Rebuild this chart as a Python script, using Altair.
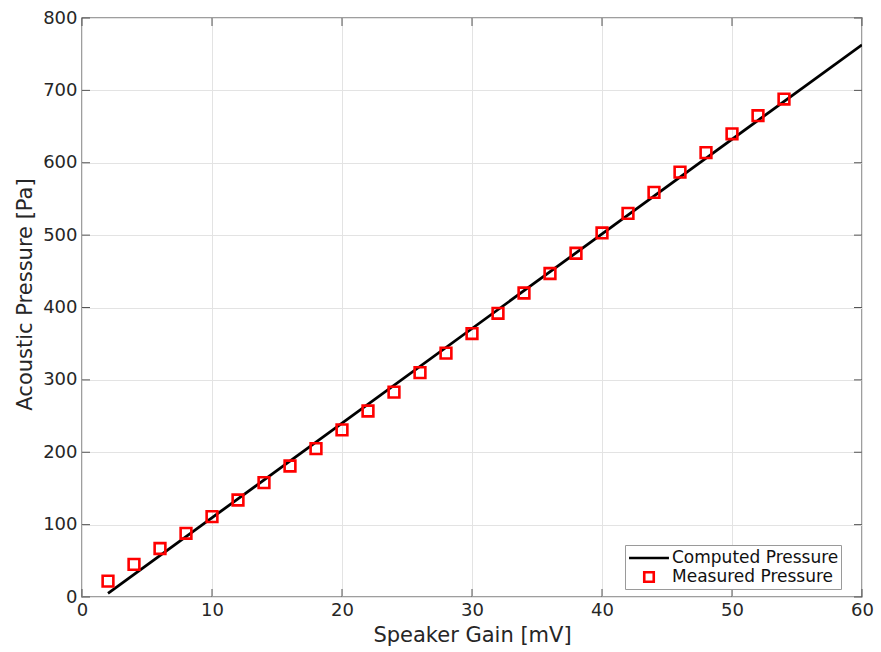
import altair as alt
import pandas as pd

# ---- data ----
gain_measured = [2, 4, 6, 8, 10, 12, 14, 16, 18, 20, 22, 24, 26, 28,
                 30, 32, 34, 36, 38, 40, 42, 44, 46, 48, 50, 52, 54]
pressure_measured = [22, 45, 67, 88, 111, 134, 158, 181, 205, 231, 257, 283, 310, 337,
                     364, 392, 420, 447, 475, 503, 530, 559, 587, 614, 640, 665, 688]
gain_computed = [2, 60]
pressure_computed = [5, 763]
x_ticks = [0, 10, 20, 30, 40, 50, 60]
y_ticks = [0, 100, 200, 300, 400, 500, 600, 700, 800]
series_names = ["Computed Pressure", "Measured Pressure"]

FONT = "DejaVu Sans"
W, H = 780, 579
TXT = "#262626"
AXC = "#7f7f7f"

meas = pd.DataFrame({"gain": gain_measured, "p": pressure_measured, "series": series_names[1]})
comp = pd.DataFrame({"gain": gain_computed, "p": pressure_computed, "series": series_names[0]})
xt = pd.DataFrame({"v": x_ticks})
yt = pd.DataFrame({"v": y_ticks})

xscale = alt.Scale(domain=[0, 60], nice=False, zero=False)
yscale = alt.Scale(domain=[0, 800], nice=False)
color_scale = alt.Scale(domain=series_names, range=["#000000", "#ff0000"])
shape_scale = alt.Scale(domain=series_names,
                        range=["M-2.1,0H2.1", "M-0.5,-0.5H0.5V0.5H-0.5Z"])

legend = alt.Legend(title=None, orient="none", legendX=543, legendY=527,
                    strokeColor="#9a9a9a", fillColor="white", padding=2,
                    labelFont=FONT, labelFontSize=17, labelColor="#111111",
                    labelLimit=400,
                    symbolSize=361, symbolStrokeWidth=2.6, rowPadding=0,
                    labelOffset=12, symbolOffset=11)

xax = alt.Axis(values=x_ticks, grid=True, gridColor="#e3e3e3", domain=False, ticks=False,
               labelFont=FONT, labelFontSize=18, labelColor=TXT, labelPadding=4,
               labelFlush=False,
               titleFont=FONT, titleFontSize=21, titleFontWeight="normal",
               titleColor=TXT, titlePadding=5, title="Speaker Gain [mV]")
yax = alt.Axis(values=y_ticks, grid=True, gridColor="#e3e3e3", domain=False, ticks=False,
               labelFont=FONT, labelFontSize=18, labelColor=TXT, labelPadding=5,
               labelFlush=False,
               titleFont=FONT, titleFontSize=21, titleFontWeight="normal",
               titleColor=TXT, titlePadding=7, titleY=276,
               title="Acoustic Pressure [Pa]")

line = alt.Chart(comp).mark_line(strokeWidth=2.8, clip=True).encode(
    x=alt.X("gain:Q", scale=xscale, axis=xax),
    y=alt.Y("p:Q", scale=yscale, axis=yax),
    color=alt.Color("series:N", scale=color_scale, legend=legend),
)

points = alt.Chart(meas).mark_point(filled=False, size=460, strokeWidth=2.6,
                                    opacity=1).encode(
    x=alt.X("gain:Q", scale=xscale),
    y=alt.Y("p:Q", scale=yscale),
    color=alt.Color("series:N", scale=color_scale, legend=legend),
    shape=alt.Shape("series:N", scale=shape_scale, legend=legend),
)

tick_style = dict(color="#555555", strokeWidth=1)
xb = alt.Chart(xt).mark_rule(**tick_style).encode(
    x=alt.X("v:Q", scale=xscale), y=alt.value(H), y2=alt.value(H - 8))
xtp = alt.Chart(xt).mark_rule(**tick_style).encode(
    x=alt.X("v:Q", scale=xscale), y=alt.value(0), y2=alt.value(8))
yl = alt.Chart(yt).mark_rule(**tick_style).encode(
    y=alt.Y("v:Q", scale=yscale), x=alt.value(0), x2=alt.value(8))
yr = alt.Chart(yt).mark_rule(**tick_style).encode(
    y=alt.Y("v:Q", scale=yscale), x=alt.value(W), x2=alt.value(W - 8))

chart = alt.layer(line, points, xb, xtp, yl, yr).properties(
    width=W, height=H,
    autosize=alt.AutoSizeParams(type="none"),
    padding={"left": 82, "top": 18, "right": 19, "bottom": 55},
    background="white",
).configure_view(stroke=AXC, strokeWidth=1.5)

chart.save("out.html", embed_options={"renderer": "svg", "actions": False})
